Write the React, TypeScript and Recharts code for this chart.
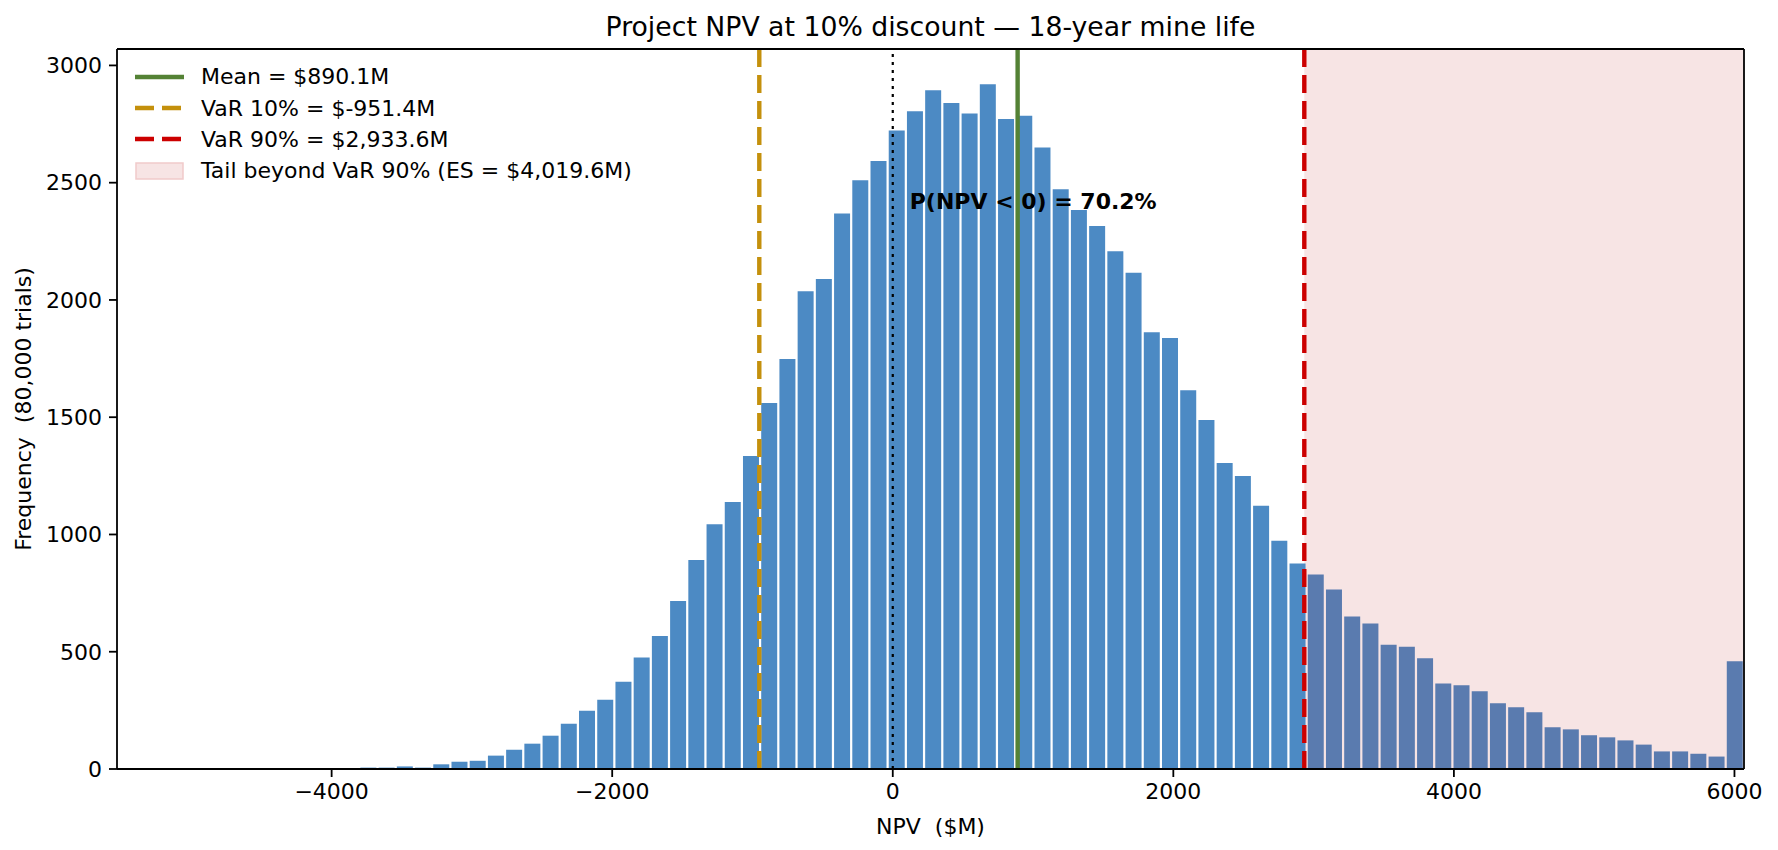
import React from "react";
import {
  Bar,
  Cell,
  ComposedChart,
  Label,
  ReferenceArea,
  ReferenceDot,
  ReferenceLine,
  XAxis,
  YAxis,
} from "recharts";

// histogram: 80 equal bins between these edges ($M)
const binLo = -4321.6;
const binHi = 6068;
const counts = [
  1, 2, 2, 1, 6, 6, 11, 6, 20, 31,
  35, 57, 82, 108, 142, 193, 248, 295, 372, 475,
  567, 716, 891, 1044, 1138, 1335, 1561, 1748, 2037, 2089,
  2369, 2510, 2592, 2723, 2805, 2894, 2840, 2795, 2920, 2771,
  2785, 2650, 2472, 2383, 2315, 2208, 2116, 1862, 1838, 1615,
  1488, 1305, 1249, 1122, 973, 876, 829, 765, 650, 620,
  530, 521, 472, 365, 357, 331, 280, 263, 242, 178,
  169, 144, 135, 122, 104, 75, 75, 65, 53, 459,
];

const xTicks = [-4000, -2000, 0, 2000, 4000, 6000];
const yTicks = [0, 500, 1000, 1500, 2000, 2500, 3000];
const xDomain = [-5530, 6068];
const yDomain = [0, 3070];

const meanNpv = 890.1;
const var10 = -951.4;
const var90 = 2933.6;
const expectedShortfall = 4019.6;
const probLossText = "P(NPV < 0) = 70.2%";
const probLossPos = { x: 121, y: 2420 };

const BAR = "#4c8ac4";
const BAR_TAIL = "#5a7baf";
const GREEN = "#548235";
const GOLD = "#c4900c";
const RED = "#cc0000";
const FONT = "'DejaVu Sans', sans-serif";
const FS = 22;

const binWidth = (binHi - binLo) / counts.length;
const data = counts.map((c, i) => ({
  left: binLo + i * binWidth,
  mid: binLo + (i + 0.5) * binWidth,
  count: c,
}));

const money = (v: number) =>
  v.toLocaleString("en-US", { minimumFractionDigits: 1, maximumFractionDigits: 1 });

const fmtX = (v: number) => (v < 0 ? `\u2212${Math.abs(v)}` : `${v}`);

const legendItems = [
  { kind: "solid", color: GREEN, label: `Mean = $${money(meanNpv)}M` },
  { kind: "dash", color: GOLD, label: `VaR 10% = $${money(var10)}M` },
  { kind: "dash", color: RED, label: `VaR 90% = $${money(var90)}M` },
  { kind: "patch", color: RED, label: `Tail beyond VaR 90% (ES = $${money(expectedShortfall)}M)` },
];

const App: React.FC = () => {
  const tickStyle = { fontSize: FS, fill: "#000", fontFamily: FONT };

  return (
    <div
      style={{
        position: "absolute",
        left: 0,
        top: 0,
        width: 1778,
        height: 850,
        background: "#fff",
        fontFamily: FONT,
      }}
    >
      <div
        style={{
          position: "absolute",
          left: 117,
          width: 1627,
          top: 12,
          textAlign: "center",
          fontSize: 26.7,
          lineHeight: "30px",
          color: "#000",
        }}
      >
        Project NPV at 10% discount — 18-year mine life
      </div>

      <ComposedChart
        width={1778}
        height={850}
        data={data}
        barCategoryGap={1}
        margin={{ top: 49, right: 34, left: 0, bottom: 0 }}
      >
        <ReferenceArea
          x1={var90}
          x2={xDomain[1]}
          y1={yDomain[0]}
          y2={yDomain[1]}
          fill="#f7e4e4"
          fillOpacity={1}
          stroke="none"
          ifOverflow="hidden"
        />
        <XAxis
          dataKey="mid"
          type="number"
          domain={xDomain}
          ticks={xTicks}
          allowDataOverflow
          tickFormatter={fmtX}
          tick={tickStyle}
          tickSize={8}
          tickMargin={6}
          height={81}
          stroke="#000"
          strokeWidth={1.8}
          tickLine={{ stroke: "#000", strokeWidth: 1.8 }}
        >
          <Label
            content={(props: any) => {
              const vb = props.viewBox || {};
              return (
                <text
                  x={vb.x + vb.width / 2}
                  y={vb.y + 57}
                  textAnchor="middle"
                  dominantBaseline="central"
                  fontSize={FS}
                  fontFamily={FONT}
                  fill="#000"
                  style={{ whiteSpace: "pre" }}
                >
                  {"NPV  ($M)"}
                </text>
              );
            }}
          />
        </XAxis>
        <YAxis
          type="number"
          domain={yDomain}
          ticks={yTicks}
          allowDataOverflow
          width={117}
          tick={tickStyle}
          tickSize={8}
          tickMargin={7}
          stroke="#000"
          strokeWidth={1.8}
          tickLine={{ stroke: "#000", strokeWidth: 1.8 }}
        >
          <Label
            content={(props: any) => {
              const vb = props.viewBox || {};
              const cx = 23;
              const cy = vb.y + vb.height / 2;
              return (
                <text
                  x={cx}
                  y={cy}
                  transform={`rotate(-90, ${cx}, ${cy})`}
                  textAnchor="middle"
                  dominantBaseline="central"
                  fontSize={FS}
                  fontFamily={FONT}
                  fill="#000"
                  style={{ whiteSpace: "pre" }}
                >
                  {"Frequency  (80,000 trials)"}
                </text>
              );
            }}
          />
        </YAxis>

        <Bar dataKey="count" isAnimationActive={false}>
          {data.map((d, i) => (
            <Cell key={i} fill={d.left >= var90 ? BAR_TAIL : BAR} />
          ))}
        </Bar>

        <ReferenceLine x={0} stroke="#000" strokeWidth={2.2} strokeDasharray="3 5" />
        <ReferenceLine x={var10} stroke={GOLD} strokeWidth={4.4} strokeDasharray="18 8" />
        <ReferenceLine x={var90} stroke={RED} strokeWidth={4.4} strokeDasharray="18 8" />
        <ReferenceLine x={meanNpv} stroke={GREEN} strokeWidth={4.4} />

        {/* top and right frame of the axes box */}
        <ReferenceLine x={xDomain[1]} stroke="#000" strokeWidth={1.8} ifOverflow="extendDomain" />
        <ReferenceLine y={yDomain[1]} stroke="#000" strokeWidth={1.8} ifOverflow="extendDomain" />

        <ReferenceDot
          x={probLossPos.x}
          y={probLossPos.y}
          r={1}
          fill="none"
          stroke="none"
          label={(props: any) => {
            const vb = props.viewBox || {};
            const x = vb.x + (vb.width || 0) / 2;
            const y = vb.y + (vb.height || 0) / 2;
            return (
              <text
                x={x}
                y={y}
                textAnchor="start"
                dominantBaseline="central"
                fontSize={FS}
                fontWeight="bold"
                fontFamily={FONT}
                fill="#000"
              >
                {probLossText}
              </text>
            );
          }}
        />
      </ComposedChart>

      <div style={{ position: "absolute", left: 135, top: 61 }}>
        {legendItems.map((item) => (
          <div
            key={item.label}
            style={{ display: "flex", alignItems: "center", height: 31.4 }}
          >
            <svg width={50} height={20} style={{ marginRight: 16 }}>
              {item.kind === "solid" && (
                <line x1={0} y1={10} x2={49} y2={10} stroke={item.color} strokeWidth={4.4} />
              )}
              {item.kind === "dash" && (
                <line
                  x1={0}
                  y1={10}
                  x2={49}
                  y2={10}
                  stroke={item.color}
                  strokeWidth={4.4}
                  strokeDasharray="19 8"
                />
              )}
              {item.kind === "patch" && (
                <rect x={1} y={2} width={47} height={16} fill="#f7e4e4" stroke="#f1caca" strokeWidth={1.5} />
              )}
            </svg>
            <span style={{ fontSize: FS, color: "#000", whiteSpace: "pre" }}>{item.label}</span>
          </div>
        ))}
      </div>
    </div>
  );
};

export default App;
